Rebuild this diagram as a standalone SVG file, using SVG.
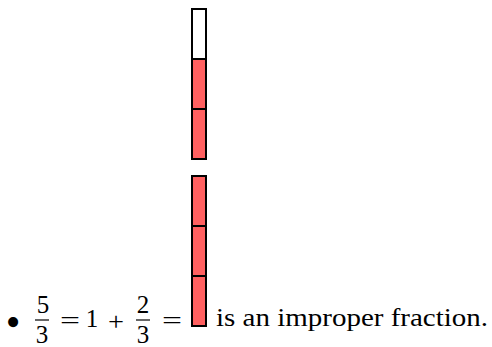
<svg xmlns="http://www.w3.org/2000/svg" width="492" height="347" viewBox="0 0 492 347">
<style>
.c{stroke:#000;stroke-width:2}
.r{fill:#ff6060}
.w{fill:#fff}
</style>
<rect x="0" y="0" width="492" height="347" fill="#fff"/>
<g id="bar-top">
<rect class="c w" x="192" y="9" width="14" height="50"/>
<rect class="c r" x="192" y="59" width="14" height="50"/>
<rect class="c r" x="192" y="109" width="14" height="50"/>
</g>
<g id="bar-bottom">
<rect class="c r" x="192" y="176" width="14" height="50"/>
<rect class="c r" x="192" y="226" width="14" height="50"/>
<rect class="c r" x="192" y="276" width="14" height="50"/>
</g>
<g id="equation" font-family="Liberation Serif, Times New Roman, serif" font-size="25" fill="#000">
<text x="13" y="336" font-size="42" text-anchor="middle">•</text>
<text x="43" y="313" text-anchor="middle">5</text>
<line x1="35" y1="320" x2="49" y2="320" stroke="#000" stroke-width="1.2"/>
<text x="42" y="343" text-anchor="middle">3</text>
<text x="60" y="329" textLength="20" lengthAdjust="spacingAndGlyphs">=</text>
<text x="92" y="327" text-anchor="middle">1</text>
<text x="108" y="330" textLength="16" lengthAdjust="spacingAndGlyphs">+</text>
<text x="143" y="313" text-anchor="middle">2</text>
<line x1="136" y1="320" x2="150" y2="320" stroke="#000" stroke-width="1.2"/>
<text x="143" y="343" text-anchor="middle">3</text>
<text x="162" y="329" textLength="20" lengthAdjust="spacingAndGlyphs">=</text>
<text x="216" y="326" font-size="26" textLength="272" lengthAdjust="spacingAndGlyphs">is an improper fraction.</text>
</g>
</svg>
